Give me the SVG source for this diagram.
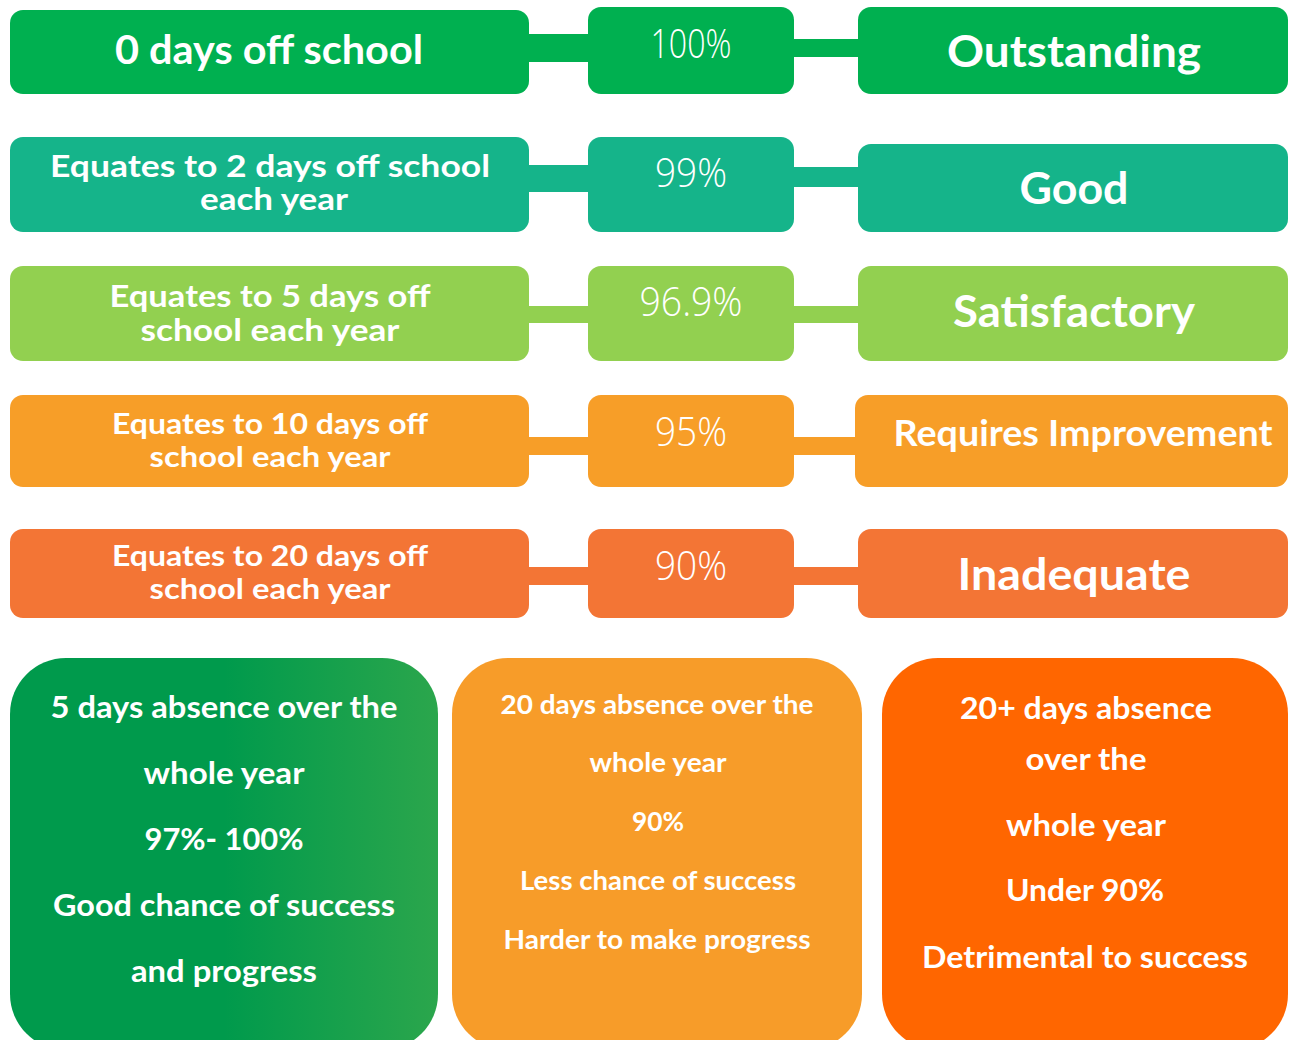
<svg xmlns="http://www.w3.org/2000/svg" width="1289" height="1040" viewBox="0 0 1289 1040">
<defs>
<linearGradient id="g1" x1="0" y1="0" x2="1" y2="0">
<stop offset="0" stop-color="#009a4c"/>
<stop offset="0.5" stop-color="#009a4c"/>
<stop offset="1" stop-color="#2ba64c"/>
</linearGradient>
<style>
text{fill:#fff;text-anchor:middle;font-family:Lato,"Open Sans","Liberation Sans",sans-serif;font-weight:700}
.pct{font-family:"Open Sans",Lato,"Liberation Sans",sans-serif;font-weight:300;font-size:40px}
.two{font-size:30px}
.two2{font-size:28px}
.r1{fill:#00b050}.r2{fill:#15b48a}.r3{fill:#92d050}.r4{fill:#f79e28}.r5{fill:#f37535}
</style>
</defs>
<rect width="1289" height="1040" fill="#fff"/>
<g id="connectors">
<rect class="r1" x="525" y="34" width="68" height="28"/>
<rect class="r1" x="790" y="39" width="72" height="18"/>
<rect class="r2" x="525" y="165" width="68" height="27"/>
<rect class="r2" x="790" y="167" width="72" height="20"/>
<rect class="r3" x="525" y="306" width="68" height="17"/>
<rect class="r3" x="790" y="306" width="72" height="17"/>
<rect class="r4" x="525" y="437" width="68" height="18"/>
<rect class="r4" x="790" y="437" width="70" height="18"/>
<rect class="r5" x="525" y="567" width="68" height="18"/>
<rect class="r5" x="790" y="567" width="72" height="18"/>
</g>
<g id="row1-left"><rect class="r1" x="10" y="10" width="519" height="84" rx="13"/><text x="269" y="64" font-size="40" textLength="308" lengthAdjust="spacingAndGlyphs">0 days off school</text></g>
<g id="row1-pct"><rect class="r1" x="588" y="7" width="206" height="87" rx="13"/><text class="pct" x="691" y="58" textLength="81" lengthAdjust="spacingAndGlyphs">100%</text></g>
<g id="row1-right"><rect class="r1" x="858" y="7" width="430" height="87" rx="13"/><text x="1074" y="67" font-size="44" textLength="254" lengthAdjust="spacingAndGlyphs">Outstanding</text></g>

<g id="row2-left"><rect class="r2" x="10" y="137" width="519" height="95" rx="13"/><text class="two" x="270" y="177" textLength="440" lengthAdjust="spacingAndGlyphs">Equates  to 2 days off school</text><text class="two" x="274" y="210" textLength="148" lengthAdjust="spacingAndGlyphs">each year</text></g>
<g id="row2-pct"><rect class="r2" x="588" y="137" width="206" height="95" rx="13"/><text class="pct" x="691" y="187" textLength="72" lengthAdjust="spacingAndGlyphs">99%</text></g>
<g id="row2-right"><rect class="r2" x="858" y="144" width="430" height="88" rx="13"/><text x="1074" y="204" font-size="44" textLength="109" lengthAdjust="spacingAndGlyphs">Good</text></g>

<g id="row3-left"><rect class="r3" x="10" y="266" width="519" height="95" rx="13"/><text class="two" x="270" y="307" textLength="321" lengthAdjust="spacingAndGlyphs">Equates to 5 days off</text><text class="two" x="270" y="341" textLength="259" lengthAdjust="spacingAndGlyphs">school each year</text></g>
<g id="row3-pct"><rect class="r3" x="588" y="266" width="206" height="95" rx="13"/><text class="pct" x="691" y="316" textLength="103" lengthAdjust="spacingAndGlyphs">96.9%</text></g>
<g id="row3-right"><rect class="r3" x="858" y="266" width="430" height="95" rx="13"/><text x="1074" y="327" font-size="44" textLength="242" lengthAdjust="spacingAndGlyphs">Satisfactory</text></g>

<g id="row4-left"><rect class="r4" x="10" y="395" width="519" height="92" rx="13"/><text class="two2" x="270" y="434" textLength="316" lengthAdjust="spacingAndGlyphs">Equates to 10 days off</text><text class="two2" x="270" y="467" textLength="241" lengthAdjust="spacingAndGlyphs">school each year</text></g>
<g id="row4-pct"><rect class="r4" x="588" y="395" width="206" height="92" rx="13"/><text class="pct" x="691" y="446" textLength="72" lengthAdjust="spacingAndGlyphs">95%</text></g>
<g id="row4-right"><rect class="r4" x="855" y="395" width="433" height="92" rx="13"/><text x="1083" y="446" font-size="36" textLength="379" lengthAdjust="spacingAndGlyphs">Requires Improvement</text></g>

<g id="row5-left"><rect class="r5" x="10" y="529" width="519" height="89" rx="13"/><text class="two2" x="270" y="566" textLength="316" lengthAdjust="spacingAndGlyphs">Equates to 20 days off</text><text class="two2" x="270" y="599" textLength="241" lengthAdjust="spacingAndGlyphs">school each year</text></g>
<g id="row5-pct"><rect class="r5" x="588" y="529" width="206" height="89" rx="13"/><text class="pct" x="691" y="580" textLength="72" lengthAdjust="spacingAndGlyphs">90%</text></g>
<g id="row5-right"><rect class="r5" x="858" y="529" width="430" height="89" rx="13"/><text x="1074" y="590" font-size="44" textLength="233" lengthAdjust="spacingAndGlyphs">Inadequate</text></g>

<g id="summary-good"><rect x="10" y="658" width="428" height="392" rx="56" fill="url(#g1)"/>
<text x="224" y="718" font-size="30" textLength="347" lengthAdjust="spacingAndGlyphs">5 days absence over the</text>
<text x="224" y="784" font-size="30" textLength="161" lengthAdjust="spacingAndGlyphs">whole year</text>
<text x="224" y="850" font-size="30" textLength="159" lengthAdjust="spacingAndGlyphs">97%- 100%</text>
<text x="224" y="916" font-size="30" textLength="342" lengthAdjust="spacingAndGlyphs">Good chance of success</text>
<text x="224" y="982" font-size="30" textLength="186" lengthAdjust="spacingAndGlyphs">and progress</text></g>

<g id="summary-less"><rect x="452" y="658" width="410" height="392" rx="56" fill="#f79c29"/>
<text x="657" y="714" font-size="26" textLength="313" lengthAdjust="spacingAndGlyphs">20 days absence over the</text>
<text x="658" y="772" font-size="26" textLength="137" lengthAdjust="spacingAndGlyphs">whole year</text>
<text x="658" y="831" font-size="26" textLength="52" lengthAdjust="spacingAndGlyphs">90%</text>
<text x="658" y="890" font-size="26" textLength="276" lengthAdjust="spacingAndGlyphs">Less chance of success</text>
<text x="657" y="949" font-size="26" textLength="307" lengthAdjust="spacingAndGlyphs">Harder to make progress</text></g>

<g id="summary-detrimental"><rect x="882" y="658" width="406" height="392" rx="56" fill="#ff6600"/>
<text x="1086" y="719" font-size="30" textLength="252" lengthAdjust="spacingAndGlyphs">20+ days absence</text>
<text x="1086" y="770" font-size="30" textLength="121" lengthAdjust="spacingAndGlyphs">over the</text>
<text x="1086" y="836" font-size="30" textLength="160" lengthAdjust="spacingAndGlyphs">whole year</text>
<text x="1085" y="901" font-size="30" textLength="158" lengthAdjust="spacingAndGlyphs">Under 90%</text>
<text x="1085" y="968" font-size="30" textLength="326" lengthAdjust="spacingAndGlyphs">Detrimental to success</text></g>
</svg>
